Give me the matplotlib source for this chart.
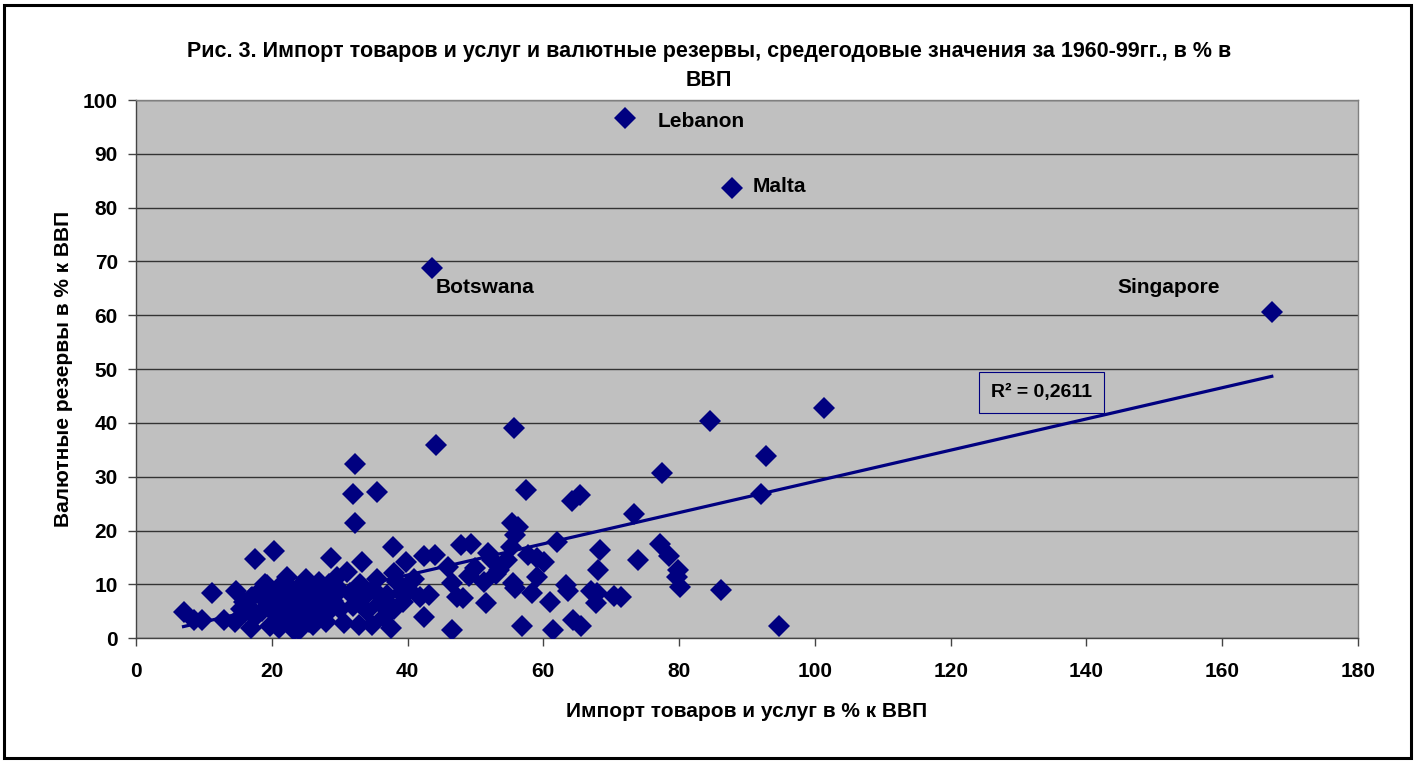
import matplotlib
matplotlib.use("Agg")
import matplotlib.pyplot as plt
from matplotlib.patches import Rectangle
import numpy as np

plt.rcParams['font.family'] = ['Liberation Sans', 'DejaVu Sans']

# Imports of goods & services (% GDP) vs. reserves (% GDP)
imports = [
    72.0, 87.8, 43.6, 167.3, 101.4, 84.6, 92.8, 92.1, 77.5, 55.7, 44.2,
    32.2, 31.9, 35.5, 32.2, 57.5, 65.4, 64.2, 73.4, 74.0, 77.2, 78.5, 79.9,
    79.7, 80.2, 86.1, 94.7, 71.4, 55.4, 56.2, 55.9, 62.0, 37.8, 68.4, 68.1,
    70.4, 67.9, 67.0, 67.7, 39.7, 42.4, 44.1, 47.8, 49.3, 45.9, 46.6, 48.1,
    47.3, 51.5, 51.3, 51.8, 52.5, 54.7, 55.2, 53.5, 57.7, 59.1, 60.1, 59.1,
    58.4, 55.5, 55.9, 61.0, 63.3, 63.6, 56.9, 61.4, 64.3, 65.5, 46.6, 42.4,
    43.2, 38.0, 17.6, 20.4, 28.7, 33.3, 11.2, 14.8, 7.0, 8.5, 9.7, 12.9,
    14.6, 16.9, 16.1, 17.1, 15.9, 19.3, 22.3, 21.3, 40.2, 41.9, 34.8, 30.6,
    24.0, 29.6, 31.1,
    15.5, 16.5, 17.0, 17.5, 18.0, 18.5, 19.0, 19.5, 19.8, 20.0, 20.5, 21.0,
    21.8, 22.0, 22.5, 23.0, 23.2, 23.5, 24.0, 24.0, 24.5, 25.0, 25.5, 25.8,
    26.0, 26.5, 27.0, 27.5, 28.0, 28.5, 29.0, 30.0, 31.5, 32.0, 32.8, 33.0,
    33.5, 34.0, 35.0, 35.5, 36.0, 36.5, 37.0, 37.5, 38.0, 38.5, 39.0, 39.4,
    41.0, 23.0, 21.0, 26.0, 28.0, 22.0, 25.0, 27.0, 30.0, 50.0, 53.0, 49.0,
]
reserves = [
    96.6, 83.6, 68.8, 60.6, 42.8, 40.4, 33.8, 26.8, 30.8, 39.0, 36.0,
    32.3, 26.8, 27.1, 21.5, 27.5, 26.6, 25.5, 23.1, 14.5, 17.6, 15.3, 12.7,
    11.3, 9.6, 9.0, 2.3, 7.7, 21.4, 20.7, 19.2, 17.9, 17.0, 16.4, 12.6,
    7.9, 8.4, 8.7, 6.6, 14.2, 15.2, 15.5, 17.3, 17.6, 13.3, 10.2, 7.4,
    7.7, 6.5, 10.5, 15.8, 14.5, 14.5, 17.0, 12.7, 15.5, 14.9, 14.2, 11.4,
    8.4, 10.2, 9.3, 6.8, 9.9, 8.7, 2.3, 1.5, 3.4, 2.3, 1.5, 4.0,
    8.0, 12.1, 14.7, 16.3, 14.9, 14.1, 8.5, 8.7, 4.9, 3.4, 3.4, 3.4,
    3.1, 1.9, 4.9, 7.7, 6.8, 9.9, 11.4, 6.5, 9.0, 7.7, 2.5, 2.8,
    1.5, 11.4, 12.4,
    5.5, 6.0, 7.5, 4.0, 8.5, 5.0, 10.0, 6.5, 2.2, 8.0, 4.5, 9.5,
    3.5, 7.5, 5.0, 9.0, 1.5, 6.0, 4.0, 8.0, 10.0, 5.5, 3.0, 7.0,
    9.0, 5.0, 6.5, 8.0, 4.5, 10.0, 7.0, 5.5, 8.5, 6.0, 2.5, 10.0,
    7.5, 5.0, 9.0, 11.0, 6.5, 4.0, 8.0, 1.9, 5.5, 10.5, 8.4, 6.8,
    11.0, 3.0, 2.0, 2.5, 3.0, 10.0, 11.0, 10.5, 9.0, 13.0, 12.0, 11.5,
]

labels = ["Lebanon", "Malta", "Botswana", "Singapore"]
label_x = [76.9, 90.8, 44.2, 144.6]
label_y = [96.0, 84.0, 65.1, 65.1]

trend_slope = 0.29
trend_intercept = 0.15
r2_text = "R² = 0,2611"

title = "Рис. 3. Импорт товаров и услуг и валютные резервы, средегодовые значения за 1960-99гг., в % в\nВВП"
xlabel = "Импорт товаров и услуг в % к ВВП"
ylabel = "Валютные резервы в % к ВВП"

navy = "#000080"

W, H = 1418.0, 763.0
fig = plt.figure(figsize=(14.18, 7.63), dpi=100)
ax = fig.add_axes([136 / W, 1 - 638.3 / H, (1358 - 136) / W, (638.3 - 100) / H])
ax.set_facecolor("#C0C0C0")

ax.plot(imports, reserves, linestyle="none", marker="D", markersize=11,
        markeredgewidth=0, color=navy, zorder=3)

tx = np.array([min(imports), max(imports)])
ax.plot(tx, trend_slope * tx + trend_intercept, color=navy, lw=2.3, zorder=4)

for t, x, y in zip(labels, label_x, label_y):
    ax.text(x, y, t, fontsize=15, fontweight="bold", va="center", ha="left", zorder=5)

ax.text(133.4, 45.6, r2_text, fontsize=14, fontweight="bold", ha="center", va="center",
        zorder=5, bbox=dict(boxstyle="square,pad=0.62", fc="#C0C0C0", ec=navy, lw=0.8))

ax.set_xlim(0, 180)
ax.set_ylim(0, 100)
ax.set_xticks(np.arange(0, 181, 20))
ax.set_yticks(np.arange(0, 101, 10))
ax.yaxis.grid(True, color="#333333", lw=1.0)
ax.set_axisbelow(True)
for s in ["top", "right"]:
    ax.spines[s].set_color("#808080")
    ax.spines[s].set_linewidth(1.0)
for s in ["left", "bottom"]:
    ax.spines[s].set_color("#444444")
    ax.spines[s].set_linewidth(1.0)
ax.tick_params(axis="both", direction="out", length=6, width=1, color="#444444",
               labelsize=15)
for lab in ax.get_xticklabels() + ax.get_yticklabels():
    lab.set_fontweight("bold")
ax.tick_params(axis="x", pad=11)
ax.tick_params(axis="y", pad=7)

ax.set_xlabel(xlabel, fontsize=15, fontweight="bold", labelpad=15)
ax.set_ylabel(ylabel, fontsize=15, fontweight="bold", labelpad=7)

fig.text(0.50, 1 - 66 / H, title, fontsize=15.5, fontweight="bold", ha="center", va="center",
         linespacing=1.5)

fig.patches.append(Rectangle((4 / W, 5 / H), (1411 - 4) / W, (758 - 5) / H,
                             transform=fig.transFigure, fill=False, ec="black", lw=2.2))

fig.savefig("out.png", dpi=100)
